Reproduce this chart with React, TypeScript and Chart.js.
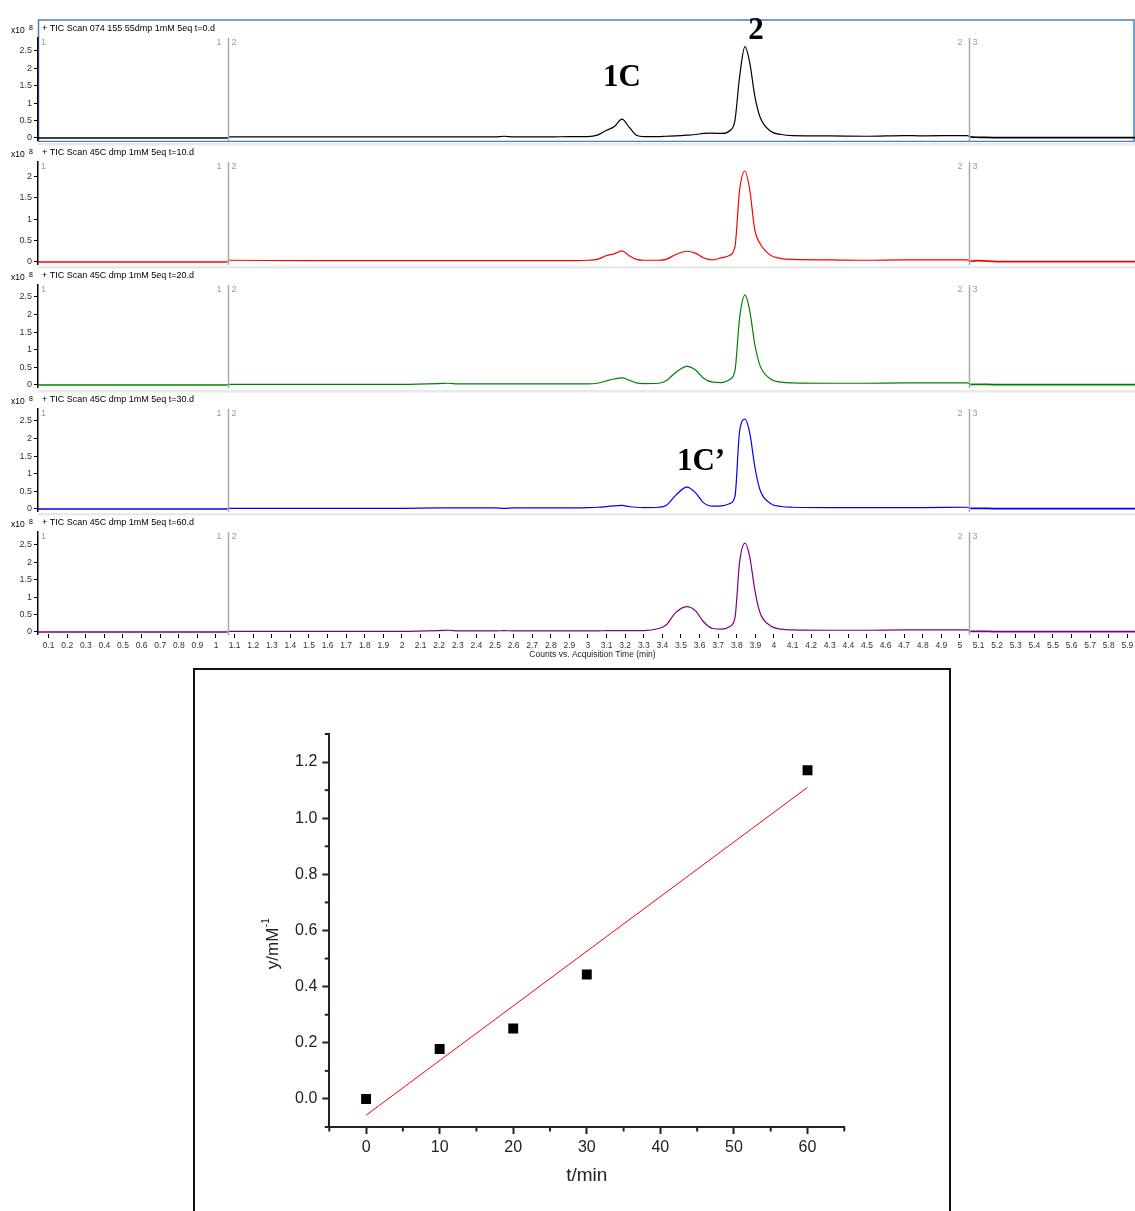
import React, { useEffect, useRef } from 'react';
import { Chart, registerables } from 'chart.js';
Chart.register(...registerables);

// ---------------- data ----------------
const retentionTime = [
  0.043, 0.6, 1.06, 1.07, 1.5, 2.0, 2.2, 2.25, 2.3, 2.5,
  2.55, 2.6, 2.8, 2.9, 3.0, 3.05, 3.1, 3.14, 3.183, 3.22,
  3.26, 3.3, 3.38, 3.42, 3.47, 3.532, 3.58, 3.62, 3.67, 3.72,
  3.76, 3.79, 3.815, 3.844, 3.87, 3.897, 3.925, 3.98, 4.04, 4.1,
  4.3, 4.5, 4.7, 4.8, 5.04, 5.055, 5.1, 5.2, 5.941,
];
const ticT0 = [
  0, 0, 0, 0.03, 0.03, 0.03, 0.03, 0.03, 0.03, 0.03,
  0.05, 0.03, 0.03, 0.04, 0.04, 0.08, 0.22, 0.32, 0.54, 0.32,
  0.08, 0.04, 0.04, 0.05, 0.06, 0.08, 0.1, 0.13, 0.14, 0.13,
  0.2, 0.5, 1.75, 2.62, 2.15, 1.2, 0.6, 0.2, 0.1, 0.07,
  0.06, 0.05, 0.07, 0.06, 0.07, 0.03, 0.02, 0.01, 0.01,
];
const ticT10 = [
  0, 0, 0, 0.04, 0.03, 0.03, 0.03, 0.03, 0.03, 0.03,
  0.03, 0.03, 0.03, 0.03, 0.04, 0.06, 0.15, 0.19, 0.26, 0.15,
  0.06, 0.04, 0.04, 0.06, 0.17, 0.25, 0.2, 0.1, 0.05, 0.1,
  0.15, 0.35, 1.67, 2.12, 1.67, 0.74, 0.43, 0.16, 0.08, 0.06,
  0.05, 0.04, 0.05, 0.05, 0.05, 0.02, 0.03, 0.01, 0.01,
];
const ticT20 = [
  0, 0, 0, 0.02, 0.02, 0.02, 0.04, 0.05, 0.03, 0.03,
  0.03, 0.03, 0.03, 0.03, 0.03, 0.05, 0.12, 0.17, 0.2, 0.14,
  0.06, 0.04, 0.05, 0.12, 0.35, 0.53, 0.42, 0.2, 0.08, 0.07,
  0.15, 0.4, 1.9, 2.55, 2.1, 1.15, 0.55, 0.18, 0.08, 0.06,
  0.05, 0.05, 0.06, 0.06, 0.06, 0.02, 0.02, 0.01, 0.01,
];
const ticT30 = [
  0, 0, 0, 0.02, 0.02, 0.02, 0.03, 0.03, 0.03, 0.03,
  0.02, 0.03, 0.03, 0.03, 0.04, 0.05, 0.07, 0.09, 0.1, 0.07,
  0.05, 0.04, 0.05, 0.1, 0.38, 0.62, 0.45, 0.18, 0.08, 0.09,
  0.15, 0.35, 2.2, 2.55, 2.15, 1.2, 0.54, 0.16, 0.07, 0.05,
  0.04, 0.04, 0.04, 0.04, 0.05, 0.02, 0.02, 0.01, 0.01,
];
const ticT60 = [
  0, 0, 0, 0.02, 0.02, 0.02, 0.04, 0.05, 0.03, 0.03,
  0.04, 0.03, 0.03, 0.03, 0.03, 0.03, 0.04, 0.04, 0.04, 0.04,
  0.04, 0.04, 0.1, 0.2, 0.55, 0.73, 0.6, 0.3, 0.1, 0.08,
  0.15, 0.4, 2.0, 2.55, 2.15, 1.2, 0.55, 0.18, 0.08, 0.06,
  0.05, 0.05, 0.06, 0.06, 0.06, 0.02, 0.02, 0.01, 0.01,
];
const panelTitles = [
  '+ TIC Scan 074 155 55dmp 1mM 5eq t=0.d',
  '+ TIC Scan 45C dmp 1mM 5eq t=10.d',
  '+ TIC Scan 45C dmp 1mM 5eq t=20.d',
  '+ TIC Scan 45C dmp 1mM 5eq t=30.d',
  '+ TIC Scan 45C dmp 1mM 5eq t=60.d',
];
const panelYMin = [-0.058, -0.047, -0.057, -0.057, -0.058];
const panelYMax = [2.87, 2.33, 2.84, 2.84, 2.87];
const countTicks = [0, 0.5, 1, 1.5, 2, 2.5];
const timeTicks = [
  0.1, 0.2, 0.3, 0.4, 0.5, 0.6, 0.7, 0.8, 0.9, 1,
  1.1, 1.2, 1.3, 1.4, 1.5, 1.6, 1.7, 1.8, 1.9, 2,
  2.1, 2.2, 2.3, 2.4, 2.5, 2.6, 2.7, 2.8, 2.9, 3,
  3.1, 3.2, 3.3, 3.4, 3.5, 3.6, 3.7, 3.8, 3.9, 4,
  4.1, 4.2, 4.3, 4.4, 4.5, 4.6, 4.7, 4.8, 4.9, 5,
  5.1, 5.2, 5.3, 5.4, 5.5, 5.6, 5.7, 5.8, 5.9,
];
const segmentBreaks = [1.065, 5.048];
const segmentLabels = [['1', '2'], ['2', '3']];

const sampleTime = [0, 10, 20, 30, 60];
const sampleValue = [0, 0.178, 0.251, 0.443, 1.171];
const fitTime = [0, 60];
const fitValue = [-0.058, 1.11];
const scatterXTicks = [0, 10, 20, 30, 40, 50, 60];
const scatterXMinor = [-5, 5, 15, 25, 35, 45, 55, 65];
const scatterYTicks = [0, 0.2, 0.4, 0.6, 0.8, 1.0, 1.2];
const scatterYMinor = [-0.1, 0.1, 0.3, 0.5, 0.7, 0.9, 1.1, 1.3];

const traces = [ticT0, ticT10, ticT20, ticT30, ticT60];

// ---------------- layout / style ----------------
const W = 1135;
const panelColors = ['#000000', '#ff0000', '#008000', '#0000ff', '#800080'];
const panelTops = [18, 142, 265, 389, 512];
const panelHeights = [124, 124, 124, 124, 160];

export default function App() {
  const panelRefs = useRef<(HTMLCanvasElement | null)[]>([]);
  const scatterRef = useRef<HTMLCanvasElement | null>(null);

  useEffect(() => {
    const charts: Chart[] = [];
    traces.forEach((trace, i) => {
      const canvas = panelRefs.current[i];
      if (!canvas) return;
      const showX = i === traces.length - 1;
      const deco = {
        id: 'panelDeco' + i,
        beforeDraw(chart: any) {
          const ctx = chart.ctx;
          ctx.save();
          if (i === 0) {
            ctx.strokeStyle = '#4a7ebf';
            ctx.lineWidth = 1.5;
            ctx.strokeRect(38.5, 2, W - 39.5, 121.5);
          } else {
            ctx.fillStyle = '#e9e9e9';
            ctx.fillRect(38, 1, W - 38, 2.5);
          }
          ctx.restore();
        },
        afterDraw(chart: any) {
          const ctx = chart.ctx;
          const ca = chart.chartArea;
          const x = chart.scales.x;
          ctx.save();
          ctx.fillStyle = '#000';
          ctx.textBaseline = 'middle';
          ctx.textAlign = 'left';
          ctx.font = '9px Arial, "Liberation Sans", sans-serif';
          ctx.fillText(panelTitles[i], 42, 11);
          ctx.font = '8.5px Arial, "Liberation Sans", sans-serif';
          ctx.fillText('x10', 11, 13);
          ctx.font = '7px Arial, "Liberation Sans", sans-serif';
          ctx.fillText('8', 29, 10);
          // segment separators
          ctx.strokeStyle = '#a8a8a8';
          ctx.lineWidth = 1.5;
          ctx.font = '9px Arial, "Liberation Sans", sans-serif';
          ctx.fillStyle = '#9a9a9a';
          ctx.fillText('1', ca.left + 3, ca.top + 5);
          segmentBreaks.forEach((t, k) => {
            const px = Math.round(x.getPixelForValue(t)) + 0.5;
            ctx.beginPath();
            ctx.moveTo(px, ca.top);
            ctx.lineTo(px, ca.bottom + 1);
            ctx.stroke();
            ctx.textAlign = 'right';
            ctx.fillText(segmentLabels[k][0], px - 7, ca.top + 5);
            ctx.textAlign = 'left';
            ctx.fillText(segmentLabels[k][1], px + 3, ca.top + 5);
          });
          if (showX) {
            ctx.fillStyle = '#222';
            ctx.textAlign = 'center';
            ctx.font = '8.5px Arial, "Liberation Sans", sans-serif';
            ctx.fillText('Counts vs. Acquisition Time (min)', (ca.left + ca.right) / 2 + 6, 143);
          }
          ctx.restore();
        },
      };
      const chart = new Chart(canvas, {
        type: 'line',
        data: {
          datasets: [
            {
              data: trace.map((v, k) => ({ x: retentionTime[k], y: v })),
              borderColor: panelColors[i],
              borderWidth: 1.2,
              pointRadius: 0,
              cubicInterpolationMode: 'monotone',
              fill: false,
              segment: {
                borderWidth: (c: any) =>
                  c.p0.parsed.x < segmentBreaks[0] - 0.01 || c.p0.parsed.x >= 5.055 ? 1.7 : 1.2,
              },
            },
          ],
        },
        options: {
          animation: false,
          responsive: false,
          maintainAspectRatio: false,
          events: [],
          layout: { padding: { top: 20, bottom: showX ? 0 : 2, left: 0, right: 0 } },
          plugins: { legend: { display: false }, tooltip: { enabled: false } },
          scales: {
            x: {
              type: 'linear',
              min: 0.043,
              max: 5.941,
              display: showX,
              afterBuildTicks: (s: any) => {
                s.ticks = timeTicks.map((v) => ({ value: v }));
              },
              afterFit: (s: any) => {
                s.height = showX ? 38 : 0;
                s.paddingLeft = 0;
                s.paddingRight = 0;
              },
              ticks: {
                autoSkip: false,
                maxRotation: 0,
                minRotation: 0,
                padding: 3,
                color: '#333',
                font: { size: 8.5, family: 'Arial, "Liberation Sans", sans-serif' },
                callback: (v: any) => String(v),
              },
              grid: { drawOnChartArea: false, drawTicks: true, tickLength: 4, color: '#000', tickWidth: 1 },
              border: { display: false },
            },
            y: {
              type: 'linear',
              min: panelYMin[i],
              max: panelYMax[i],
              afterBuildTicks: (s: any) => {
                s.ticks = countTicks.filter((v) => v <= panelYMax[i]).map((v) => ({ value: v }));
              },
              afterFit: (s: any) => {
                s.width = 38;
                s.paddingTop = 0;
                s.paddingBottom = 0;
              },
              ticks: {
                padding: 2,
                color: '#333',
                font: { size: 9, family: 'Arial, "Liberation Sans", sans-serif' },
                callback: (v: any) => String(v),
              },
              grid: { drawOnChartArea: false, drawTicks: true, tickLength: 4, color: '#000', tickWidth: 1 },
              border: { display: true, color: '#000', width: 1.5 },
            },
          },
        } as any,
        plugins: [deco],
      });
      charts.push(chart);
    });

    const sc = scatterRef.current;
    if (sc) {
      const scatterDeco = {
        id: 'scatterDeco',
        beforeDraw(chart: any) {
          const ctx = chart.ctx;
          ctx.save();
          ctx.strokeStyle = '#111';
          ctx.lineWidth = 2;
          ctx.strokeRect(1, 1, 756, 600);
          ctx.restore();
        },
        afterDraw(chart: any) {
          const ctx = chart.ctx;
          const ca = chart.chartArea;
          const xs = chart.scales.x;
          const ys = chart.scales.y;
          ctx.save();
          ctx.strokeStyle = '#222';
          ctx.lineWidth = 2;
          scatterXMinor.forEach((v) => {
            const px = xs.getPixelForValue(v);
            ctx.beginPath();
            ctx.moveTo(px, ca.bottom);
            ctx.lineTo(px, ca.bottom + 4.5);
            ctx.stroke();
          });
          scatterYMinor.forEach((v) => {
            const py = ys.getPixelForValue(v);
            ctx.beginPath();
            ctx.moveTo(ca.left, py);
            ctx.lineTo(ca.left - 4.5, py);
            ctx.stroke();
          });
          ctx.fillStyle = '#222';
          ctx.textBaseline = 'middle';
          ctx.textAlign = 'center';
          ctx.font = '19px Arial, "Liberation Sans", sans-serif';
          ctx.fillText('t/min', (ca.left + ca.right) / 2, 508);
          // y title rotated
          ctx.translate(80, 276);
          ctx.rotate(-Math.PI / 2);
          ctx.font = '17px Arial, "Liberation Sans", sans-serif';
          const main = 'y/mM';
          const w1 = ctx.measureText(main).width;
          ctx.font = '10px Arial, "Liberation Sans", sans-serif';
          const w2 = ctx.measureText('-1').width;
          const start = -(w1 + w2) / 2;
          ctx.textAlign = 'left';
          ctx.font = '17px Arial, "Liberation Sans", sans-serif';
          ctx.fillText(main, start, 0);
          ctx.font = '10px Arial, "Liberation Sans", sans-serif';
          ctx.fillText('-1', start + w1 + 0.5, -7);
          ctx.restore();
        },
      };
      const chart = new Chart(sc, {
        type: 'scatter',
        data: {
          datasets: [
            {
              data: sampleTime.map((t, k) => ({ x: t, y: sampleValue[k] })),
              pointStyle: 'rect',
              pointRadius: 7,
              backgroundColor: '#000',
              borderWidth: 0,
            },
            {
              data: fitTime.map((t, k) => ({ x: t, y: fitValue[k] })),
              showLine: true,
              borderColor: '#ff0000',
              borderWidth: 1,
              pointRadius: 0,
            },
          ],
        },
        options: {
          animation: false,
          responsive: false,
          maintainAspectRatio: false,
          events: [],
          layout: { padding: { top: 66, right: 106.7, left: 0, bottom: 0 } },
          plugins: { legend: { display: false }, tooltip: { enabled: false } },
          scales: {
            x: {
              type: 'linear',
              min: -5,
              max: 65,
              afterBuildTicks: (s: any) => {
                s.ticks = scatterXTicks.map((v) => ({ value: v }));
              },
              afterFit: (s: any) => {
                s.height = 84;
                s.paddingLeft = 0;
                s.paddingRight = 0;
              },
              ticks: {
                autoSkip: false,
                maxRotation: 0,
                padding: 4,
                color: '#222',
                font: { size: 16, family: 'Arial, "Liberation Sans", sans-serif' },
                callback: (v: any) => String(v),
              },
              grid: { drawOnChartArea: false, tickLength: 7, tickWidth: 2, color: '#222' },
              border: { color: '#222', width: 2 },
            },
            y: {
              type: 'linear',
              min: -0.1,
              max: 1.3,
              afterBuildTicks: (s: any) => {
                s.ticks = scatterYTicks.map((v) => ({ value: v }));
              },
              afterFit: (s: any) => {
                s.width = 136.3;
                s.paddingTop = 0;
                s.paddingBottom = 0;
              },
              ticks: {
                padding: 5,
                color: '#222',
                font: { size: 16, family: 'Arial, "Liberation Sans", sans-serif' },
                callback: (v: any) => Number(v).toFixed(1),
              },
              grid: { drawOnChartArea: false, tickLength: 7, tickWidth: 2, color: '#222' },
              border: { color: '#222', width: 2 },
            },
          },
        } as any,
        plugins: [scatterDeco],
      });
      charts.push(chart);
    }
    return () => charts.forEach((c) => c.destroy());
  }, []);

  const annot = (x: number, y: number): React.CSSProperties => ({
    position: 'absolute',
    left: x,
    top: y,
    transform: 'translateX(-50%)',
    font: 'bold 31px "Liberation Serif", "Times New Roman", serif',
    lineHeight: '31px',
    whiteSpace: 'nowrap',
    color: '#000',
    pointerEvents: 'none',
  });

  return (
    <div
      style={{
        position: 'absolute',
        left: 0,
        top: 0,
        width: W,
        height: 1211,
        overflow: 'hidden',
        background: '#fff',
      }}
    >
      {traces.map((_, i) => (
        <canvas
          key={i}
          ref={(el) => {
            panelRefs.current[i] = el;
          }}
          width={W}
          height={panelHeights[i]}
          style={{ position: 'absolute', left: 0, top: panelTops[i], width: W, height: panelHeights[i] }}
        />
      ))}
      <canvas
        ref={scatterRef}
        width={758}
        height={543}
        style={{ position: 'absolute', left: 193, top: 668, width: 758, height: 543 }}
      />
      <div style={annot(622, 60)}>1C</div>
      <div style={annot(756, 13)}>2</div>
      <div style={annot(701, 444)}>1C’</div>
    </div>
  );
}
